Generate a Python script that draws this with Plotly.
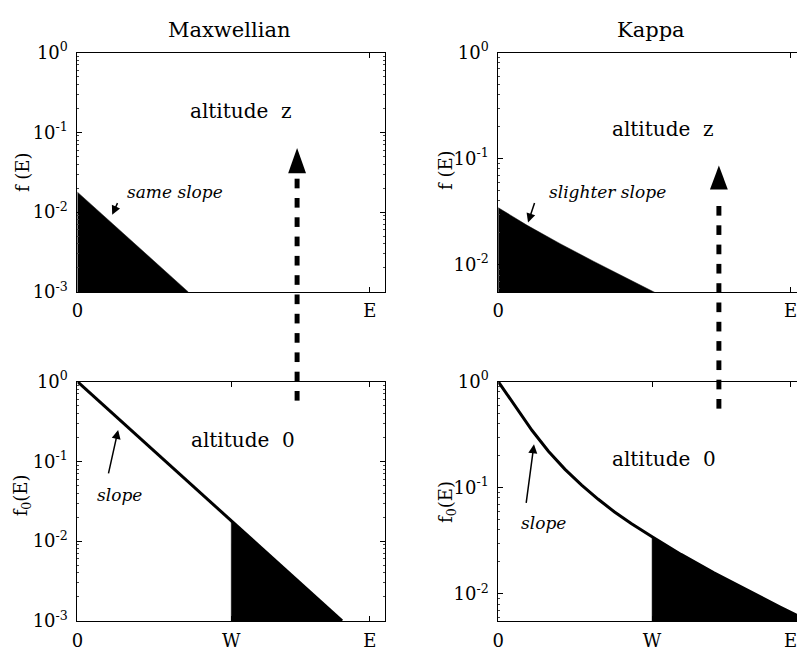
import plotly.graph_objects as go

# ---------------- data ----------------
W_pos = 0.5                      # energy W (axis units, E-axis 0..1)
E_tick = 0.95                    # position of the "E" tick label

# Maxwellian f0(E): straight line on log scale
E_max = [0.0, 0.5, 0.86]
f_max = [1.0, 0.0178, 0.001]

# Kappa f0(E)
E_kap = [0.0, 0.056, 0.110, 0.163, 0.217, 0.271, 0.325, 0.378, 0.432, 0.5,
         0.594, 0.701, 0.809, 0.916, 0.971, 1.0, 1.03]
f_kap = [1.0, 0.574, 0.346, 0.221, 0.149, 0.106, 0.0778, 0.0590, 0.0460, 0.0345,
         0.0235, 0.0158, 0.0108, 0.0075, 0.00624, 0.00569, 0.0051]

ylog_range_max = [-3, 0]
ylog_range_kap = [-2.256, 0]
y_ticks_max = [1, 0.1, 0.01, 0.001]
y_ticktext_max = ["10<sup>0</sup>", "10<sup>-1</sup>", "10<sup>-2</sup>", "10<sup>-3</sup>"]
y_ticks_kap = [1, 0.1, 0.01]
y_ticktext_kap = ["10<sup>0</sup>", "10<sup>-1</sup>", "10<sup>-2</sup>"]
x_top_ticks = [0, E_tick]
x_top_text = ["0", "E"]
x_bot_ticks = [0, W_pos, E_tick]
x_bot_text = ["0", "W", "E"]

# ---------------- layout helpers ----------------
FW, FH = 797, 657
def px(x):
    return x / FW
def py(y):
    return 1 - y / FH

FONT = "DejaVu Serif"
L_X0, L_X1 = 72, 382
R_X0, R_X1 = 496, 797
T_Y0, T_Y1 = 41, 289
B_Y0, B_Y1 = 382, 630
UNIT = L_X1 - L_X0  # px per E unit

fig = go.Figure()

def fill_trace(xs, ys, xa, ya):
    fig.add_trace(go.Scatter(x=xs, y=ys, mode="lines", fill="toself",
                             fillcolor="black", line=dict(color="black", width=0.5),
                             xaxis=xa, yaxis=ya, hoverinfo="skip", showlegend=False))

# --- Maxwellian bottom (x, y) ---
fig.add_trace(go.Scatter(x=E_max, y=f_max, mode="lines", line=dict(color="black", width=3),
                         xaxis="x", yaxis="y", showlegend=False))
tail_x = [e for e in E_max if e >= W_pos]
tail_y = [f for e, f in zip(E_max, f_max) if e >= W_pos]
fill_trace([W_pos] + tail_x + [tail_x[-1]], [1e-4] + tail_y + [1e-4], "x", "y")

# --- Maxwellian top (x2, y2): shifted by W ---
fill_trace([0] + [e - W_pos for e in tail_x] + [tail_x[-1] - W_pos],
           [1e-4] + tail_y + [1e-4], "x2", "y2")

# --- Kappa bottom (x3, y3) ---
fig.add_trace(go.Scatter(x=E_kap, y=f_kap, mode="lines", line=dict(color="black", width=3),
                         xaxis="x3", yaxis="y3", showlegend=False))
ktail_x = [e for e in E_kap if e >= W_pos]
ktail_y = [f for e, f in zip(E_kap, f_kap) if e >= W_pos]
fill_trace([W_pos] + ktail_x + [ktail_x[-1]], [1e-4] + ktail_y + [1e-4], "x3", "y3")

# --- Kappa top (x4, y4) ---
fill_trace([0] + [e - W_pos for e in ktail_x] + [ktail_x[-1] - W_pos],
           [1e-4] + ktail_y + [1e-4], "x4", "y4")

def minor_vals(lo, hi):
    vals = []
    for d in range(lo, hi):
        for m in range(2, 10):
            vals.append(m * 10 ** d)
    return vals

tickfont = dict(family=FONT, size=18, color="black")

def xaxis(dom, rng, tv, tt, anchor):
    return dict(domain=dom, range=rng, tickmode="array", tickvals=tv, ticktext=tt,
                ticks="inside", ticklen=5, tickcolor="black", showline=True, linecolor="black",
                linewidth=1, mirror="ticks", showgrid=False, zeroline=False,
                tickfont=tickfont, anchor=anchor, ticklabelstandoff=3,
                ticklabeloverflow="allow")

def yaxis(dom, rng, tv, tt, anchor, mirror, mlo):
    return dict(domain=dom, type="log", range=rng, tickmode="array", tickvals=tv, ticktext=tt,
                ticks="inside", ticklen=5, tickcolor="black", showline=True, linecolor="black",
                linewidth=1, mirror=mirror, showgrid=False, zeroline=False,
                tickfont=tickfont, anchor=anchor, ticklabelstandoff=5,
                ticklabeloverflow="allow",
                minor=dict(tickmode="array", tickvals=minor_vals(mlo, 0), ticks="inside",
                           ticklen=2, tickcolor="#444", showgrid=False))

ldom = [px(L_X0), px(L_X1)]
rdom = [px(R_X0), px(R_X1)]
tdom = [py(T_Y1), py(T_Y0)]
bdom = [py(B_Y1), py(B_Y0)]
rrange = [0, (R_X1 - R_X0) / UNIT]

fig.update_layout(
    width=FW, height=FH, margin=dict(l=0, r=0, t=0, b=0),
    paper_bgcolor="white", plot_bgcolor="white",
    font=dict(family=FONT, color="black"),
    xaxis=xaxis(ldom, [0, 1], x_bot_ticks, x_bot_text, "y"),
    yaxis=yaxis(bdom, ylog_range_max, y_ticks_max, y_ticktext_max, "x", "ticks", -3),
    xaxis2=xaxis(ldom, [0, 1], x_top_ticks, x_top_text, "y2"),
    yaxis2=yaxis(tdom, ylog_range_max, y_ticks_max, y_ticktext_max, "x2", "ticks", -3),
    xaxis3=xaxis(rdom, rrange, x_bot_ticks, x_bot_text, "y3"),
    yaxis3=yaxis(bdom, ylog_range_kap, y_ticks_kap, y_ticktext_kap, "x3", False, -3),
    xaxis4=xaxis(rdom, rrange, x_top_ticks, x_top_text, "y4"),
    yaxis4=yaxis(tdom, ylog_range_kap, y_ticks_kap, y_ticktext_kap, "x4", False, -3),
)

ann = []
def text(x, y, s, size=18, italic=False, angle=0):
    ann.append(dict(x=px(x), y=py(y), xref="paper", yref="paper", text=s, showarrow=False,
                    textangle=angle, xanchor="center", yanchor="middle",
                    font=dict(family=FONT, size=size, color="black",
                              style="italic" if italic else "normal")))

def arrow(tx, ty, sx, sy):
    ann.append(dict(x=px(tx), y=py(ty), xref="paper", yref="paper", text="",
                    showarrow=True, ax=sx - tx, ay=sy - ty, axref="pixel", ayref="pixel",
                    arrowhead=2, arrowsize=1.2, arrowwidth=1.5, arrowcolor="black", standoff=0))

text(225, 18, "Maxwellian", size=21)
text(650, 18, "Kappa", size=21)
text(237, 102, "altitude&nbsp;&nbsp;z", size=20)
text(662, 120, "altitude&nbsp;&nbsp;z", size=20)
text(239, 443, "altitude&nbsp;&nbsp;0", size=20)
text(663, 462, "altitude&nbsp;&nbsp;0", size=20)
text(170, 185, "same slope", size=17, italic=True)
text(606, 186, "slighter slope", size=17, italic=True)
text(114, 500, "slope", size=17, italic=True)
text(542, 528, "slope", size=17, italic=True)
text(16, 165, "f (E)", size=18, angle=-90)
text(443, 163, "f (E)", size=18, angle=-90)
text(17, 500, "f<sub>0</sub>(E)", size=18, angle=-90)
text(445, 507, "f<sub>0</sub>(E)", size=18, angle=-90)

arrow(107, 209, 113, 196)
arrow(526, 217, 533, 196)
arrow(113, 432, 103, 477)
arrow(532, 447, 524, 507)
fig.update_layout(annotations=ann)

shapes = []
def big_arrow(x, y_bot, y_dash_top, y_base, y_tip, half_w, dash=10, gap=10, lw=5):
    y = y_bot
    while y - dash >= y_dash_top - 0.5:
        shapes.append(dict(type="rect", xref="paper", yref="paper",
                           x0=px(x - lw / 2), x1=px(x + lw / 2), y0=py(y), y1=py(y - dash),
                           fillcolor="black", line=dict(width=0), layer="above"))
        y -= dash + gap
    path = "M {a},{b} L {c},{d} L {e},{f} Z".format(
        a=px(x - half_w), b=py(y_base), c=px(x), d=py(y_tip), e=px(x + half_w), f=py(y_base))
    shapes.append(dict(type="path", xref="paper", yref="paper", path=path,
                       fillcolor="black", line=dict(color="black", width=0), layer="above"))

big_arrow(293.3, 401.7, 171.7, 166, 140, 9)
big_arrow(718.3, 410, 200, 183, 158, 9)
fig.update_layout(shapes=shapes)

fig.write_html("out.html")
